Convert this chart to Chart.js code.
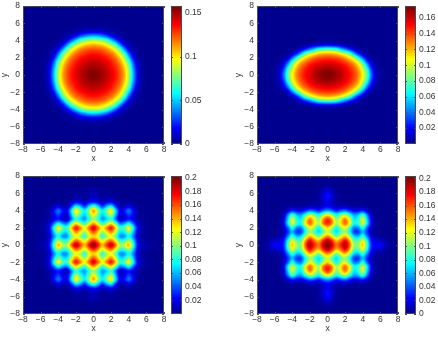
<!DOCTYPE html>
<html>
<head>
<meta charset="utf-8">
<title>Density maps</title>
<script src="https://cdn.jsdelivr.net/npm/chart.js@4"></script>
<style>
  html, body { margin: 0; background: #fff; width: 438px; height: 337px; overflow: hidden; }
  #stage { position: relative; width: 438px; height: 337px; overflow: hidden; }
  canvas { position: absolute; }
</style>
</head>
<body>
<div id="stage"></div>
<script>
// Density on the quadrant x,y = 0, 0.5 ... 8, in thousandths; each row is one y,
// trailing zeros left out. The other three quadrants are mirror images.
const densityRound = [
  [158,156,152,148,142,135,125,110,85,48,15,3],
  [156,155,151,147,141,134,124,108,83,46,14,3],
  [152,151,149,144,138,131,121,104,78,40,12,3],
  [148,147,144,140,135,126,115,95,69,32,8,2],
  [142,141,138,135,128,120,105,83,52,19,5,1],
  [135,134,131,126,120,108,90,67,33,10,3],
  [125,124,121,115,105,90,71,40,15,5,1],
  [110,108,104,95,83,67,40,17,6,2],
  [85,83,78,69,52,33,15,6,2],
  [48,46,40,32,19,10,5,2],
  [15,14,12,8,5,3,1],
  [3,3,3,2,1],
  [], [], [], [], []
];
const densityOval = [
  [175,173,170,165,158,152,142,129,107,78,37,10,2],
  [172,171,167,163,157,150,140,126,103,73,32,9,2],
  [165,164,162,157,152,144,134,117,91,57,20,6,1],
  [155,154,152,148,142,133,120,100,71,34,11,3],
  [142,141,139,134,125,112,94,66,37,11,3,1],
  [120,119,114,105,93,78,49,25,10,3],
  [78,75,70,55,41,27,13,6,2],
  [18,17,14,11,7,3,2],
  [2,2,2,1],
  [], [], [], [], [], [], [], []
];
const densityLattice = [
  [200,175,140,165,188,155,108,112,138,85,25,8,6,2,1],
  [170,148,118,140,155,125,85,85,108,68,20,5,3,1],
  [135,122,85,108,122,95,55,55,78,50,15,3,1],
  [160,135,103,128,148,115,70,73,100,62,18,5,1],
  [182,155,125,150,172,135,85,92,122,75,22,6,2,1],
  [145,118,85,105,130,92,48,55,75,45,14,4,1],
  [105,85,55,68,85,48,12,16,28,18,6,2],
  [125,95,65,85,108,60,15,18,34,20,4,1],
  [142,105,72,98,125,70,20,25,45,23,4,1],
  [90,65,35,58,72,35,8,8,17,8,2],
  [28,22,10,18,22,10,2,2,3,1],
  [10,7,3,5,6,2],
  [8,5,2,2,2,1],
  [3,2,1],
  [1],
  [], []
];
const densityStretched = [
  [205,185,155,172,192,160,105,105,135,85,30,22,22,12,3,1],
  [190,170,140,155,178,145,95,92,120,75,25,15,12,6,1],
  [150,130,100,122,140,110,68,62,85,50,15,5,3,1],
  [118,95,70,92,108,78,38,36,60,33,8,2],
  [135,110,78,105,122,88,48,52,80,42,10,2],
  [170,150,108,130,155,125,78,85,115,70,18,2],
  [168,145,100,125,150,118,72,82,115,65,16,2],
  [125,105,78,95,110,82,55,62,85,48,9,1],
  [55,45,30,40,46,32,20,22,30,14,3],
  [22,16,7,9,9,6,3,3,5,2],
  [18,12,3,2,1],
  [25,14,3,1],
  [22,12,2],
  [12,6,1],
  [3,1],
  [1],
  []
];

// Colour limits and colourbar ticks
const limitsRound = 0.158;
const limitsOval = 0.175;
const limitsLattice = 0.2025;
const limitsStretched = 0.2035;
const barTicksRound = [0, 0.05, 0.1, 0.15];
const barTicksOval = [0.02, 0.04, 0.06, 0.08, 0.1, 0.12, 0.14, 0.16];
const barTicksLattice = [0.02, 0.04, 0.06, 0.08, 0.1, 0.12, 0.14, 0.16, 0.18, 0.2];
const barTicksStretched = [0, 0.02, 0.04, 0.06, 0.08, 0.1, 0.12, 0.14, 0.16, 0.18, 0.2];
const axisTicks = [-8, -6, -4, -2, 0, 2, 4, 6, 8];

const plotW = 141, plotH = 138, axisW = 23, axisH = 20, pad = 8;
const barW = 11, barAxisW = 30, barGap = 7;
const textColor = '#333';
const frameColor = '#4a4a55';
const fontFamily = '"Liberation Sans", Arial, sans-serif';

const panels = [
  { left: 23,  top: 6,   rows: densityRound,     cmax: limitsRound,     ticks: barTicksRound },
  { left: 257, top: 6,   rows: densityOval,      cmax: limitsOval,      ticks: barTicksOval },
  { left: 23,  top: 176, rows: densityLattice,   cmax: limitsLattice,   ticks: barTicksLattice },
  { left: 257, top: 176, rows: densityStretched, cmax: limitsStretched, ticks: barTicksStretched }
];

// MATLAB style jet, t in 0..1
function jet(t) {
  const s = (63 * Math.min(Math.max(t, 0), 1) + 1) / 64;
  const ch = v => Math.round(255 * Math.min(Math.max(1.5 - Math.abs(4 * s - v), 0), 1));
  return [ch(3), ch(2), ch(1)];
}

// Full field from a quadrant: index 0..32 stands for -8..8
function mirrorField(rows) {
  const field = [];
  for (let j = 0; j <= 32; j++) {
    const row = rows[Math.abs(j - 16)];
    const line = [];
    for (let i = 0; i <= 32; i++) {
      const v = row[Math.abs(i - 16)];
      line.push((v || 0) / 1000);
    }
    field.push(line);
  }
  return field;
}

function catmull(a, b, c, d, t) {
  return b + 0.5 * t * (c - a + t * (2 * a - 5 * b + 4 * c - d + t * (3 * (b - c) + d - a)));
}

// Smooth shading between grid nodes, for a position given in data units
function shade(field, x, y) {
  const fx = (x + 8) * 2, fy = (y + 8) * 2;
  const ix = Math.floor(fx), iy = Math.floor(fy);
  const at = (i, j) => field[Math.min(Math.max(j, 0), 32)][Math.min(Math.max(i, 0), 32)];
  const col = [];
  for (let k = -1; k <= 2; k++) {
    col.push(catmull(at(ix - 1, iy + k), at(ix, iy + k), at(ix + 1, iy + k), at(ix + 2, iy + k), fx - ix));
  }
  return catmull(col[0], col[1], col[2], col[3], fy - iy);
}

const heatPlugin = {
  id: 'heat',
  beforeDatasetsDraw(chart, args, opts) {
    const { ctx, chartArea, scales } = chart;
    const x0 = Math.round(chartArea.left), y0 = Math.round(chartArea.top);
    const w = Math.round(chartArea.width), h = Math.round(chartArea.height);
    const img = ctx.createImageData(w, h);
    for (let py = 0; py < h; py++) {
      const yv = scales.y.getValueForPixel(y0 + py + 0.5);
      for (let px = 0; px < w; px++) {
        const xv = scales.x.getValueForPixel(x0 + px + 0.5);
        const c = jet(shade(opts.field, xv, yv) / opts.cmax);
        const k = (py * w + px) * 4;
        img.data[k] = c[0]; img.data[k + 1] = c[1]; img.data[k + 2] = c[2]; img.data[k + 3] = 255;
      }
    }
    ctx.putImageData(img, x0, y0);
  },
  afterDraw(chart) {
    const { ctx, chartArea: a, scales } = chart;
    ctx.save();
    ctx.strokeStyle = frameColor;
    ctx.lineWidth = 1;
    ctx.beginPath();
    // short inward ticks on all four sides
    axisTicks.forEach(t => {
      const px = Math.round(scales.x.getPixelForValue(t)) + 0.5;
      const py = Math.round(scales.y.getPixelForValue(t)) + 0.5;
      ctx.moveTo(px, a.top); ctx.lineTo(px, a.top + 2);
      ctx.moveTo(px, a.bottom); ctx.lineTo(px, a.bottom - 2);
      ctx.moveTo(a.left, py); ctx.lineTo(a.left + 2, py);
      ctx.moveTo(a.right, py); ctx.lineTo(a.right - 2, py);
    });
    ctx.stroke();
    ctx.strokeRect(a.left + 0.5, a.top + 0.5, a.width - 1, a.height - 1);
    ctx.restore();
  }
};

const framePlugin = {
  id: 'barFrame',
  afterDraw(chart) {
    const { ctx, chartArea: a, scales } = chart;
    ctx.save();
    ctx.strokeStyle = frameColor;
    ctx.strokeRect(a.left + 0.5, a.top + 0.5, a.width - 1, a.height - 1);
    ctx.beginPath();
    scales.y.ticks.forEach(t => {
      const py = Math.round(scales.y.getPixelForValue(t.value)) + 0.5;
      ctx.moveTo(a.left, py); ctx.lineTo(a.left + 2, py);
      ctx.moveTo(a.right, py); ctx.lineTo(a.right - 2, py);
    });
    ctx.stroke();
    ctx.restore();
  }
};

function addCanvas(left, top, width, height) {
  const cv = document.createElement('canvas');
  cv.width = width;
  cv.height = height;
  cv.style.left = left + 'px';
  cv.style.top = top + 'px';
  document.getElementById('stage').appendChild(cv);
  return cv;
}

function tickFont() {
  return { family: fontFamily, size: 8.5 };
}

const noGrid = { display: false, drawTicks: false };

function drawHeat(p) {
  const field = mirrorField(p.rows);
  const points = [];
  field.forEach((line, j) => line.forEach((v, i) => points.push({ x: i / 2 - 8, y: j / 2 - 8, v: v })));
  const cv = addCanvas(p.left - axisW, p.top - pad, axisW + plotW + pad, pad + plotH + axisH);
  const label = v => String(v).replace('-', '\u2212');
  new Chart(cv, {
    type: 'scatter',
    data: { datasets: [{ data: points, pointRadius: 0 }] },
    options: {
      responsive: false,
      animation: false,
      layout: { padding: { top: pad, right: pad } },
      plugins: {
        legend: { display: false },
        tooltip: { enabled: false },
        heat: { field: field, cmax: p.cmax }
      },
      scales: {
        x: {
          type: 'linear', min: -8, max: 8,
          afterBuildTicks: s => { s.ticks = axisTicks.map(v => ({ value: v })); },
          afterFit: s => { s.height = axisH; },
          grid: noGrid,
          border: { display: false },
          ticks: { color: textColor, font: tickFont(), padding: 1, maxRotation: 0, autoSkip: false, callback: label },
          title: { display: true, text: 'x', color: textColor, font: tickFont(), padding: 0 }
        },
        y: {
          type: 'linear', min: -8, max: 8,
          afterBuildTicks: s => { s.ticks = axisTicks.map(v => ({ value: v })); },
          afterFit: s => { s.width = axisW; },
          grid: noGrid,
          border: { display: false },
          ticks: { color: textColor, font: tickFont(), padding: 3, autoSkip: false, callback: label },
          title: { display: true, text: 'y', color: textColor, font: tickFont(), padding: 0 }
        }
      }
    },
    plugins: [heatPlugin]
  });
}

function drawBar(p) {
  const cv = addCanvas(p.left + plotW + barGap, p.top - pad, barW + barAxisW, plotH + pad * 2);
  // 64 levels stacked from the bottom, each reaching to the top so no seams show
  const levels = [];
  for (let i = 0; i < 64; i++) {
    const c = jet(i / 63);
    levels.push({
      data: [[p.cmax * i / 64, p.cmax]],
      backgroundColor: `rgb(${c[0]},${c[1]},${c[2]})`,
      borderWidth: 0,
      grouped: false,
      barPercentage: 1,
      categoryPercentage: 1,
      order: 64 - i
    });
  }
  new Chart(cv, {
    type: 'bar',
    data: { labels: [''], datasets: levels },
    options: {
      responsive: false,
      animation: false,
      layout: { padding: { top: pad, bottom: pad } },
      plugins: { legend: { display: false }, tooltip: { enabled: false } },
      scales: {
        x: { display: false },
        y: {
          position: 'right', min: 0, max: p.cmax,
          afterBuildTicks: s => { s.ticks = p.ticks.map(v => ({ value: v })); },
          afterFit: s => { s.width = barAxisW; },
          grid: noGrid,
          border: { display: false },
          ticks: { color: textColor, font: tickFont(), padding: 3, autoSkip: false, callback: v => String(v) }
        }
      }
    },
    plugins: [framePlugin]
  });
}

panels.forEach(p => {
  drawHeat(p);
  drawBar(p);
});
</script>
</body>
</html>
